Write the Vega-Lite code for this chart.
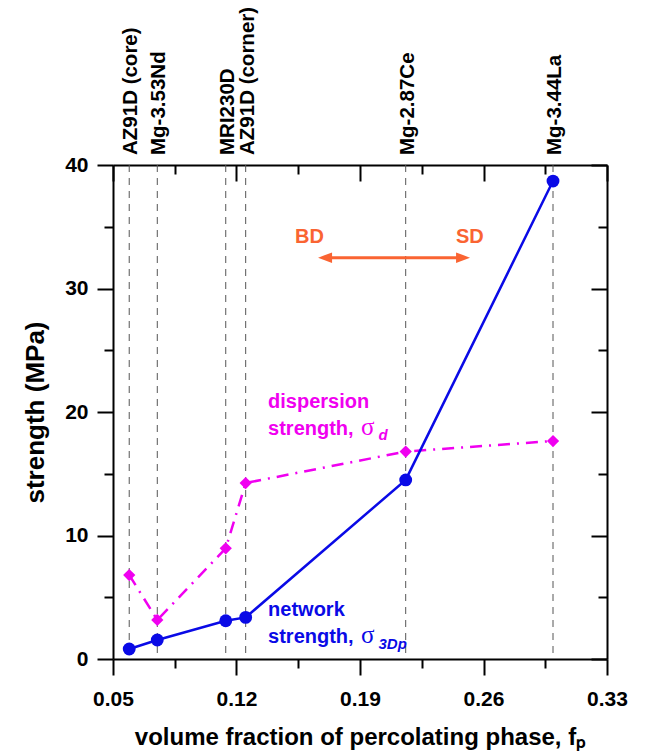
{
  "$schema": "https://vega.github.io/schema/vega-lite/v6.json",
  "width": 494,
  "height": 494,
  "autosize": {"type": "none"},
  "padding": {"left": 113, "top": 165, "right": 39, "bottom": 92},
  "background": "white",
  "config": {
    "view": {"stroke": null},
    "font": "Liberation Sans",
    "axis": {
      "grid": false,
      "domainColor": "black",
      "domainWidth": 2,
      "tickColor": "black",
      "tickWidth": 2,
      "labelFont": "Liberation Sans",
      "labelFontWeight": "bold",
      "labelFontSize": 21,
      "labelColor": "black",
      "titleFont": "Liberation Sans",
      "titleFontWeight": "bold",
      "titleColor": "black",
      "labelFlush": false,
      "labelOverlap": false
    }
  },
  "datasets": {
    "pts": [
      {"alloy": "AZ91D (core)", "fp": 0.0592, "network": 0.81, "dispersion": 6.8},
      {"alloy": "Mg-3.53Nd", "fp": 0.0751, "network": 1.54, "dispersion": 3.16},
      {"alloy": "MRI230D", "fp": 0.1139, "network": 3.1, "dispersion": 8.96},
      {"alloy": "AZ91D (corner)", "fp": 0.1252, "network": 3.37, "dispersion": 14.25},
      {"alloy": "Mg-2.87Ce", "fp": 0.2159, "network": 14.5, "dispersion": 16.8},
      {"alloy": "Mg-3.44La", "fp": 0.2994, "network": 38.7, "dispersion": 17.65}
    ],
    "arrow": [
      {"x": 0.1702, "y": 32.5, "end": "left"},
      {"x": 0.2484, "y": 32.5, "end": "right"}
    ],
    "arrowText": [
      {"x": 0.1614, "y": 33.7, "t": "BD"},
      {"x": 0.2523, "y": 33.7, "t": "SD"}
    ],
    "ann": [
      {"x": 0.1379, "y": 20.3, "t": "dispersion", "s": "dispersion"},
      {"x": 0.1379, "y": 18.1, "t": "strength,", "s": "dispersion"},
      {"x": 0.1379, "y": 3.48, "t": "network", "s": "network"},
      {"x": 0.1379, "y": 1.27, "t": "strength,", "s": "network"}
    ],
    "sigma": [
      {"x": 0.1905, "y": 18.1, "t": "σ", "s": "dispersion"},
      {"x": 0.1905, "y": 1.27, "t": "σ", "s": "network"}
    ],
    "sub": [
      {"x": 0.2005, "y": 17.73, "t": "d", "s": "dispersion"},
      {"x": 0.2005, "y": 0.81, "t": "3Dp", "s": "network"}
    ]
  },
  "resolve": {"axis": {"x": "independent", "y": "independent"}},
  "layer": [
    {
      "data": {"name": "pts"},
      "mark": {"type": "rule", "color": "#555555", "strokeWidth": 1, "strokeDash": [7, 6]},
      "encoding": {
        "x": {"field": "fp", "type": "quantitative", "scale": {"domain": [0.05, 0.33], "nice": false, "zero": false}, "axis": null}
      }
    },
    {
      "data": {"name": "pts"},
      "mark": {"type": "line", "color": "#f000f0", "strokeWidth": 2.5, "strokeDash": [12, 7, 2, 7]},
      "encoding": {
        "x": {"field": "fp", "type": "quantitative", "scale": {"domain": [0.05, 0.33], "nice": false, "zero": false},
          "axis": {"orient": "top", "values": [0.05, 0.12, 0.19, 0.26, 0.33], "tickSize": -16, "labels": false, "title": null}},
        "y": {"field": "dispersion", "type": "quantitative", "scale": {"domain": [0, 40], "nice": false},
          "axis": {"orient": "right", "values": [0, 10, 20, 30, 40], "tickSize": -16, "labels": false, "title": null}}
      }
    },
    {
      "data": {"name": "pts"},
      "mark": {"type": "point", "filled": true, "shape": "diamond", "size": 150, "color": "#f000f0", "opacity": 1},
      "encoding": {
        "x": {"field": "fp", "type": "quantitative", "scale": {"domain": [0.05, 0.33], "nice": false, "zero": false},
          "axis": {"orient": "top", "values": [0.085, 0.155, 0.225, 0.295], "tickSize": -9, "labels": false, "domain": false, "title": null}},
        "y": {"field": "dispersion", "type": "quantitative", "scale": {"domain": [0, 40], "nice": false},
          "axis": {"orient": "right", "values": [5, 15, 25, 35], "tickSize": -9, "labels": false, "domain": false, "title": null}}
      }
    },
    {
      "data": {"name": "pts"},
      "mark": {"type": "line", "color": "#0a0ae6", "strokeWidth": 2.5},
      "encoding": {
        "x": {"field": "fp", "type": "quantitative", "scale": {"domain": [0.05, 0.33], "nice": false, "zero": false},
          "axis": {"orient": "bottom", "values": [0.05, 0.12, 0.19, 0.26, 0.33], "format": ".2f", "tickSize": 16, "labelPadding": 13, "title": "volume fraction of percolating phase, fₚ", "titleFontSize": 24, "titlePadding": 16}},
        "y": {"field": "network", "type": "quantitative", "scale": {"domain": [0, 40], "nice": false},
          "axis": {"orient": "left", "values": [0, 10, 20, 30, 40], "tickSize": 16, "labelPadding": 9, "title": "strength (MPa)", "titleFontSize": 26, "titlePadding": 16}}
      }
    },
    {
      "data": {"name": "pts"},
      "mark": {"type": "point", "filled": true, "shape": "circle", "size": 165, "color": "#0a0ae6", "opacity": 1},
      "encoding": {
        "x": {"field": "fp", "type": "quantitative", "scale": {"domain": [0.05, 0.33], "nice": false, "zero": false},
          "axis": {"orient": "bottom", "values": [0.085, 0.155, 0.225, 0.295], "tickSize": 9, "labels": false, "domain": false, "title": null}},
        "y": {"field": "network", "type": "quantitative", "scale": {"domain": [0, 40], "nice": false},
          "axis": {"orient": "left", "values": [5, 15, 25, 35], "tickSize": 9, "labels": false, "domain": false, "title": null}}
      }
    },
    {
      "data": {"name": "pts"},
      "mark": {"type": "text", "angle": 270, "align": "left", "baseline": "alphabetic", "dx": 10, "dy": 8, "fontSize": 20.5, "fontWeight": "bold", "font": "Liberation Sans", "color": "black"},
      "encoding": {
        "x": {"field": "fp", "type": "quantitative", "axis": null},
        "y": {"datum": 40, "type": "quantitative", "axis": null},
        "text": {"field": "alloy"}
      }
    },
    {
      "data": {"name": "arrow"},
      "mark": {"type": "line", "color": "#fa6432", "strokeWidth": 3},
      "encoding": {
        "x": {"field": "x", "type": "quantitative", "axis": null},
        "y": {"field": "y", "type": "quantitative", "axis": null}
      }
    },
    {
      "data": {"name": "arrow"},
      "mark": {"type": "point", "filled": true, "size": 196, "color": "#fa6432", "opacity": 1},
      "encoding": {
        "x": {"field": "x", "type": "quantitative", "axis": null},
        "y": {"field": "y", "type": "quantitative", "axis": null},
        "shape": {"field": "end", "type": "nominal", "legend": null,
          "scale": {"domain": ["left", "right"], "range": ["M -1 0 L 1 -0.75 L 1 0.75 Z", "M 1 0 L -1 -0.75 L -1 0.75 Z"]}}
      }
    },
    {
      "data": {"name": "arrowText"},
      "mark": {"type": "text", "align": "center", "baseline": "alphabetic", "fontSize": 20, "fontWeight": "bold", "font": "Liberation Sans", "color": "#fa6432"},
      "encoding": {
        "x": {"field": "x", "type": "quantitative", "axis": null},
        "y": {"field": "y", "type": "quantitative", "axis": null},
        "text": {"field": "t"}
      }
    },
    {
      "data": {"name": "ann"},
      "mark": {"type": "text", "align": "left", "baseline": "alphabetic", "fontSize": 20, "fontWeight": "bold", "font": "Liberation Sans"},
      "encoding": {
        "x": {"field": "x", "type": "quantitative", "axis": null},
        "y": {"field": "y", "type": "quantitative", "axis": null},
        "text": {"field": "t"},
        "color": {"field": "s", "type": "nominal", "legend": null, "scale": {"domain": ["dispersion", "network"], "range": ["#f000f0", "#0a0ae6"]}}
      }
    },
    {
      "data": {"name": "sigma"},
      "mark": {"type": "text", "align": "left", "baseline": "alphabetic", "fontSize": 25, "fontWeight": "normal", "font": "Liberation Serif"},
      "encoding": {
        "x": {"field": "x", "type": "quantitative", "axis": null},
        "y": {"field": "y", "type": "quantitative", "axis": null},
        "text": {"field": "t"},
        "color": {"field": "s", "type": "nominal", "legend": null, "scale": {"domain": ["dispersion", "network"], "range": ["#f000f0", "#0a0ae6"]}}
      }
    },
    {
      "data": {"name": "sub"},
      "mark": {"type": "text", "align": "left", "baseline": "alphabetic", "fontSize": 15, "fontWeight": "bold", "fontStyle": "italic", "font": "Liberation Sans"},
      "encoding": {
        "x": {"field": "x", "type": "quantitative", "axis": null},
        "y": {"field": "y", "type": "quantitative", "axis": null},
        "text": {"field": "t"},
        "color": {"field": "s", "type": "nominal", "legend": null, "scale": {"domain": ["dispersion", "network"], "range": ["#f000f0", "#0a0ae6"]}}
      }
    }
  ]
}
